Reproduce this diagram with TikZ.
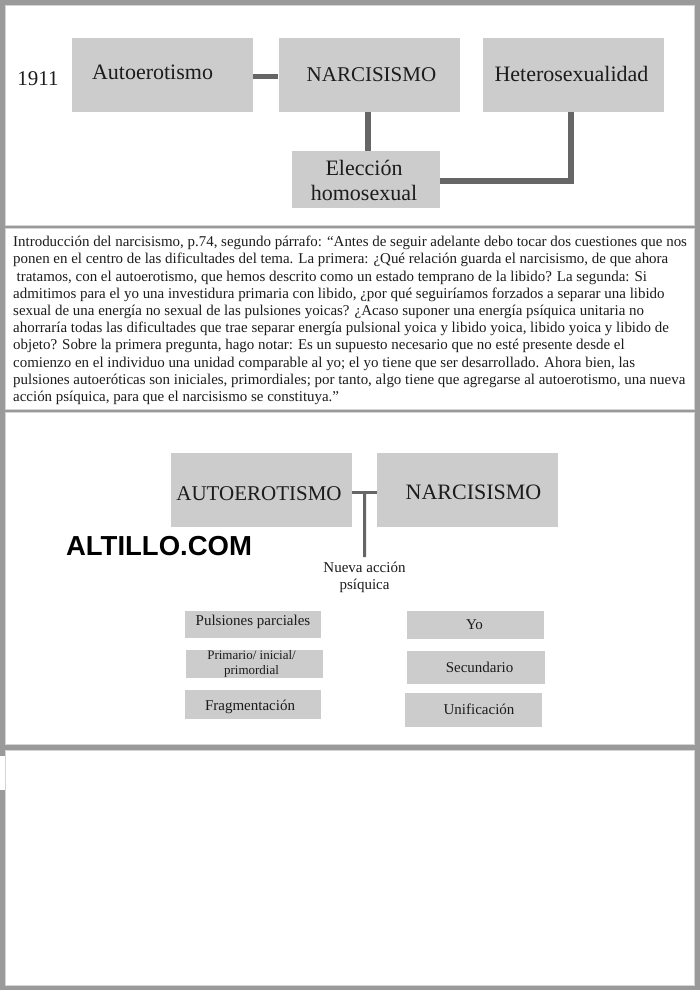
\documentclass[tikz,border=0pt]{standalone}
\usepackage{fontspec}
\setmainfont{Liberation Serif}
\newfontfamily\altfont{Liberation Sans}
\usetikzlibrary{calc}
\definecolor{frame}{HTML}{9A9A9A}
\definecolor{boxgray}{HTML}{CCCCCC}
\definecolor{edge}{HTML}{D4D4D4}
\definecolor{conn}{HTML}{666666}
\definecolor{ink}{HTML}{1C1C1C}
\begin{document}
\begin{tikzpicture}[x=1pt,y=-1pt,
  every node/.style={text=ink},
  panel/.style={fill=white, draw=edge, line width=0.8pt},
  gbox/.style={fill=boxgray, draw=none, inner sep=0pt},
  bigbox/.style={gbox, minimum width=181pt, minimum height=74pt},
  smallbox/.style={gbox, minimum width=137pt, minimum height=28pt},
  fbig/.style={font=\fontsize{22}{25.5}\selectfont},
  fcap/.style={font=\fontsize{21}{25}\selectfont},
  fsmall/.style={font=\fontsize{15}{17}\selectfont},
  ftiny/.style={font=\fontsize{13}{15}\selectfont},
  connA/.style={draw=conn, line width=5.5pt},
  connB/.style={draw=conn, line width=3pt}
]
\useasboundingbox (0,0) rectangle (700,990);
% frame and panels
\fill[frame] (0,0) rectangle (700,990);
\path[panel] (5,5) rectangle (694,225);
\path[panel] (5,228.5) rectangle (694,409.5);
\path[panel] (5,412.5) rectangle (694,744);
\path[panel] (5,750.5) rectangle (694,985);
\fill[white] (0,756) rectangle (4.5,790);

% ---------- panel 1 ----------
\node[fbig, font=\fontsize{21}{25}\selectfont] (year) at (38,79) {1911};
\node[bigbox, label={[fbig, xshift=-10pt, yshift=3pt]center:Autoerotismo}] (autoA) at (162.5,75) {};
\node[bigbox, label={[fcap, xshift=2.5pt]center:NARCISISMO}] (narcA) at (369,75) {};
\node[bigbox, label={[fbig, xshift=-1.5pt, yshift=1pt]center:Heterosexualidad}] (heteroA) at (573,75) {};
\node[gbox, minimum width=148pt, minimum height=57pt,
      label={[fbig, align=center, xshift=-2pt, yshift=-1pt]center:Elección\\homosexual}] (elecA) at (366,179.5) {};
\draw[connA] ([yshift=-1.5pt]autoA.east) -- ([yshift=-1.5pt]narcA.west);
\draw[connA] ([xshift=-1pt]narcA.south) -- ([xshift=-1pt]narcA.south |- elecA.north);
\draw[connA] ([yshift=-1.5pt]elecA.east) -| ([xshift=-2pt]heteroA.south);

% ---------- panel 2 ----------
\node[anchor=north west, inner sep=0pt, align=left, font=\fontsize{14.95}{17.2}\selectfont] (quote) at (13,236)
{Introducción del narcisismo, p.74, segundo párrafo: “Antes de seguir adelante debo tocar dos cuestiones que nos\\
ponen en el centro de las dificultades del tema. La primera: ¿Qué relación guarda el narcisismo, de que ahora\\
\hspace*{3.5pt}tratamos, con el autoerotismo, que hemos descrito como un estado temprano de la libido? La segunda: Si\\
admitimos para el yo una investidura primaria con libido, ¿por qué seguiríamos forzados a separar una libido\\
sexual de una energía no sexual de las pulsiones yoicas? ¿Acaso suponer una energía psíquica unitaria no\\
ahorraría todas las dificultades que trae separar energía pulsional yoica y libido yoica, libido yoica y libido de\\
objeto? Sobre la primera pregunta, hago notar: Es un supuesto necesario que no esté presente desde el\\
comienzo en el individuo una unidad comparable al yo; el yo tiene que ser desarrollado. Ahora bien, las\\
pulsiones autoeróticas son iniciales, primordiales; por tanto, algo tiene que agregarse al autoerotismo, una nueva\\
acción psíquica, para que el narcisismo se constituya.”};

% ---------- panel 3 ----------
\node[bigbox, label={[fcap, xshift=-2.5pt, yshift=-4pt]center:AUTOEROTISMO}] (autoB) at (261.5,490) {};
\node[bigbox, label={[fcap, font=\fontsize{22}{25}\selectfont, xshift=6pt, yshift=-2pt]center:NARCISISMO}] (narcB) at (467.5,490) {};
\coordinate (jB) at ($(autoB.east)!0.5!(narcB.west)$);
\node[fsmall, align=center, anchor=north, inner sep=0pt, inner ysep=5pt] (nueva) at (364.5,557) {Nueva acción\\psíquica};
\draw[connB] ([yshift=-2pt]autoB.east) -- ([yshift=-2pt]narcB.west);
\draw[connB] ([yshift=-2pt]jB) -- (nueva.north);

\node[font=\altfont\bfseries\fontsize{27.5}{30}\selectfont, text=black] (altillo) at (159,546) {ALTILLO.COM};

\node[smallbox, minimum width=136pt, minimum height=27pt,
      label={[fsmall, yshift=2.5pt]center:Pulsiones parciales}] (puls) at (253,624.5) {};
\node[smallbox, minimum width=137pt, minimum height=28pt,
      label={[ftiny, align=center, xshift=-3pt]center:Primario/ inicial/\\primordial}] (prim) at (254.5,664) {};
\node[smallbox, minimum width=136pt, minimum height=29pt,
      label={[fsmall, xshift=-3pt, yshift=-2.5pt]center:Fragmentación}] (frag) at (253,704.5) {};

\node[smallbox, minimum width=137pt, minimum height=28pt,
      label={[fsmall, xshift=-1pt]center:Yo}] (yo) at (475.5,625) {};
\node[smallbox, minimum width=138pt, minimum height=33pt,
      label={[fsmall, xshift=3.5pt]center:Secundario}] (secu) at (476,667.5) {};
\node[smallbox, minimum width=137pt, minimum height=34pt,
      label={[fsmall, xshift=5.5pt, yshift=1pt]center:Unificación}] (unif) at (473.5,710) {};
\end{tikzpicture}
\end{document}
